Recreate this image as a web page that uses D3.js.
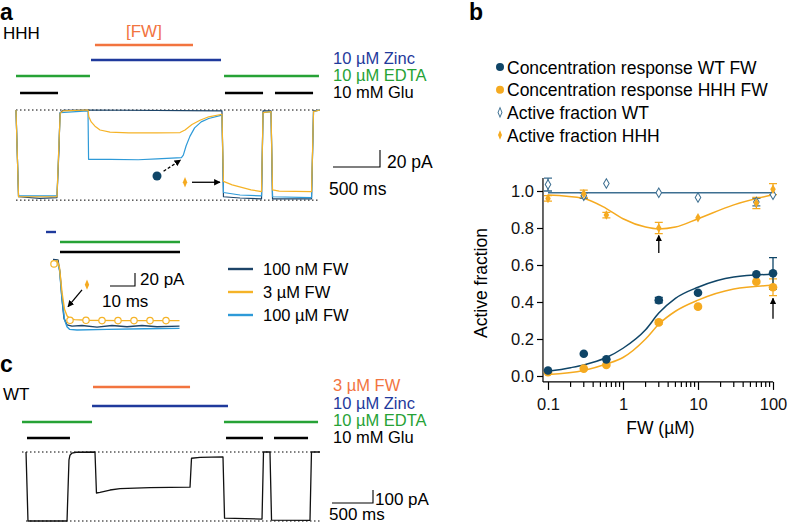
<!DOCTYPE html>
<html>
<head>
<meta charset="utf-8">
<script src="https://cdn.jsdelivr.net/npm/d3@7"></script>
<style>
body { margin: 0; background: #fff; }
svg text { font-family: "Liberation Sans", Arial, Helvetica, sans-serif; }
</style>
</head>
<body>
<div id="fig"></div>
<script>
// ---- panel a: HHH recordings (time in ms, current in pA) ----
var trace100nM_A = [[0,0],[27,-102],[255,-104],[436,-103],[457,-47],[468,-3.5],[500,-0.5],[766,0],[2191,-1],[2207,-102],[2383,-103.5],[2612,-104.5],[2628,-1],[2713,-1],[2729,-104.5],[3144,-104.5],[3165,-1],[3234,0]];
var trace100uM_A = [[0,0],[27,-101],[436,-101],[457,-40],[470,-3],[766,-1],[772,-58],[1000,-58],[1300,-58.5],[1500,-57.5],[1760,-56],[1780,-53],[1810,-42],[1850,-31],[1900,-21],[1970,-14],[2050,-10],[2191,-6],[2207,-97],[2383,-100],[2612,-101],[2628,-3],[2713,-2],[2729,-102],[3144,-103],[3165,-2],[3234,0]];
var trace3uM_A = [[0,0],[27,-102],[436,-102],[457,-40],[470,-4],[500,-1],[766,0],[775,-8],[800,-14],[840,-19],[894,-23.5],[1000,-26],[1200,-27],[1500,-27],[1745,-26.5],[1798,-23.5],[1872,-17],[1957,-12],[2050,-8],[2191,-5],[2207,-84],[2300,-88],[2400,-91],[2500,-94],[2612,-96],[2628,-3],[2713,-2],[2729,-94],[2800,-95.5],[3144,-96],[3165,-2],[3234,0]];
var barsA_FW = [[840, 1883]];
var barsA_Zinc = [[798, 2181]];
var barsA_EDTA = [[0, 787], [2213, 3223]];
var barsA_Glu = [[43, 447], [2223, 2628], [2755, 3160]];

// ---- panel a inset (time in ms, current in pA) ----
var trace100nM_I = [[-1.6,1],[0.4,0],[1.2,-20],[2,-60],[2.8,-90],[4,-100],[6,-102],[10,-101],[16,-103.5],[22,-101],[28,-103],[34,-101],[40,-103],[49,-102]];
var trace100uM_I = [[0,0],[1,-15],[2,-60],[3,-92],[4,-103],[5,-107],[8,-108],[20,-107],[35,-106],[49,-105.5]];
var trace3uM_I = [[0,0],[1,-12],[2,-50],[3,-76],[4,-86],[5,-90],[7,-92],[12,-93],[25,-93.5],[49,-93.5]];
var markers3uM_I = [[-1.2,-6],[5.2,-93],[11.6,-93],[18,-93.5],[24.4,-93.5],[30.8,-93.5],[37.2,-93.5],[43.6,-93.5]];
var barsI_Zinc = [[-4.4, -0.4]];
var barsI_EDTA = [[1.2, 49.2]];
var barsI_Glu = [[1.2, 49.2]];
var legendI = ["100 nM FW", "3 \u00b5M  FW", "100 \u00b5M FW"];

// ---- panel c: WT recording ----
var traceWT_C = [[49,0],[73,-530],[549,-530],[573,-60],[585,-25],[610,-8],[658,-2],[890,0],[908,-315],[951,-310],[1073,-292],[1195,-282],[1561,-274],[2049,-270],[2067,-48],[2171,-42],[2451,-38],[2470,-508],[2927,-515],[2945,0],[3024,0],[3043,-523],[3512,-525],[3530,0],[3634,0]];
var barsC_FW = [[866, 2049]];
var barsC_Zinc = [[854, 2512]];
var barsC_EDTA = [[0, 854], [2463, 3610]];
var barsC_Glu = [[61, 585], [2488, 2939], [3073, 3488]];

// ---- panel b: concentration response and active fraction ----
var fwConc = [0.1, 0.3, 0.6, 3, 10, 60, 100];
var respWT = [0.03, 0.12, 0.09, 0.41, 0.45, 0.55, 0.555];
var respWTerr = [0, 0, 0, 0.015, 0, 0, 0.085];
var respHHH = [0.02, 0.04, 0.06, 0.29, 0.375, 0.51, 0.48];
var respHHHerr = [0, 0, 0, 0.01, 0, 0, 0.045];
var actWT = [1.035, 0.975, 1.04, 0.99, 0.965, 0.94, 0.98];
var actWTerr = [0.035, 0.015, 0, 0, 0, 0.02, 0];
var actHHH = [0.96, 0.985, 0.87, 0.80, 0.855, 0.935, 1.01];
var actHHHerr = [0.015, 0.02, 0.015, 0.03, 0, 0.03, 0.03];
var fitRespWT = [[0.1,0.025],[0.2,0.045],[0.3,0.06],[0.6,0.1],[1,0.15],[2,0.25],[3,0.34],[5,0.42],[10,0.48],[30,0.535],[100,0.55]];
var fitRespHHH = [[0.1,0.008],[0.3,0.03],[0.6,0.065],[1,0.1],[2,0.2],[3,0.28],[5,0.35],[10,0.41],[30,0.47],[100,0.49]];
var fitActWT = [[0.1,0.99],[100,0.99]];
var fitActHHH = [[0.1,0.978],[0.3,0.96],[0.6,0.905],[1,0.85],[2,0.805],[3,0.795],[5,0.805],[10,0.85],[30,0.925],[100,0.98]];
var arrowsB = [[3, 0.665, 0.76], [100, 0.31, 0.42]];
var yTicksB = [0, 0.2, 0.4, 0.6, 0.8, 1.0];
var xTicksB = [0.1, 1, 10, 100];
var legendB = ["Concentration response WT FW", "Concentration response HHH FW", "Active fraction WT", "Active fraction HHH"];

var col = {
	navyTrace: "#1d4468", blueTrace: "#2e9ad8", orangeTrace: "#f5b327",
	fw: "#f2743f", zinc: "#1f3a9c", edta: "#26a236", wt: "#0f4567", hhh: "#f5aa20", wtFit: "#3d6f91"
};

var svg = d3.select("#fig").append("svg")
	.attr("width", 788)
	.attr("height", 526);

var defs = svg.append("defs");
defs.append("marker").attr("id", "head")
	.attr("viewBox", "0 0 10 10").attr("refX", 9).attr("refY", 5)
	.attr("markerWidth", 5).attr("markerHeight", 5).attr("orient", "auto")
	.append("path").attr("d", "M0,0 L10,5 L0,10 z").attr("fill", "#000");

function txt(g, x, y, s, size, color, weight) {
	return g.append("text").attr("x", x).attr("y", y).text(s)
		.style("font-size", size + "px").style("fill", color || "#000")
		.style("font-weight", weight || "normal");
}

function drawBars(g, bars, x, y, color) {
	g.selectAll(null).data(bars).enter().append("line")
		.attr("x1", function(d) { return x(d[0]); })
		.attr("x2", function(d) { return x(d[1]); })
		.attr("y1", y).attr("y2", y)
		.style("stroke", color).style("stroke-width", 2.4);
}

function drawTrace(g, data, x, y, color, w) {
	var line = d3.line()
		.x(function(d) { return x(d[0]); })
		.y(function(d) { return y(d[1]); });
	g.append("path").datum(data).attr("d", line)
		.style("fill", "none").style("stroke", color)
		.style("stroke-width", w || 1.2).style("stroke-linejoin", "round");
}

function dotted(g, x1, x2, y) {
	g.append("line").attr("x1", x1).attr("x2", x2).attr("y1", y).attr("y2", y)
		.style("stroke", "#000").style("stroke-width", 1).style("stroke-dasharray", "1.5,2.5");
}

function scaleBar(g, x0, y0, w, h) {
	g.append("path").attr("d", "M" + x0 + "," + y0 + "H" + (x0 + w) + "V" + (y0 - h))
		.style("fill", "none").style("stroke", "#000").style("stroke-width", 1.1);
}

// ================= panel a =================
var gA = svg.append("g");
var xA = d3.scaleLinear().domain([0, 3234]).range([16, 320]);
var yA = d3.scaleLinear().domain([0, -103.5]).range([110, 198]);

txt(gA, 0, 20, "a", 23, "#000", "bold");
txt(gA, 3, 39, "HHH", 17);
txt(gA, xA(1361), 37, "[FW]", 17, col.fw).attr("text-anchor", "middle");

drawBars(gA, barsA_FW, xA, 45, col.fw);
drawBars(gA, barsA_Zinc, xA, 60, col.zinc);
drawBars(gA, barsA_EDTA, xA, 76, col.edta);
drawBars(gA, barsA_Glu, xA, 93, "#000");
txt(gA, 333, 64, "10 \u00b5M Zinc", 16.5, col.zinc);
txt(gA, 333, 81, "10 \u00b5M EDTA", 16.5, col.edta);
txt(gA, 333, 98, "10 mM Glu", 16.5);

dotted(gA, xA(0), xA(3234), yA(0));
dotted(gA, xA(0), xA(3234), yA(-106));
drawTrace(gA, trace100nM_A, xA, yA, col.navyTrace);
drawTrace(gA, trace100uM_A, xA, yA, col.blueTrace);
drawTrace(gA, trace3uM_A, xA, yA, col.orangeTrace);

// scale bar 500 ms / 20 pA
scaleBar(gA, 333, 167, xA(500) - xA(0), yA(-20) - yA(0));
txt(gA, 387, 168, "20 pA", 17.5);
txt(gA, 329, 195, "500 ms", 17.5);

// annotations
gA.append("circle").attr("cx", xA(1500)).attr("cy", yA(-77.6)).attr("r", 4.5).style("fill", col.wt);
gA.append("line").attr("x1", xA(1570)).attr("y1", yA(-72)).attr("x2", xA(1750)).attr("y2", yA(-59))
	.style("stroke", "#000").style("stroke-width", 1.3).style("stroke-dasharray", "3,2")
	.attr("marker-end", "url(#head)");
var diamond = d3.symbol().type(d3.symbolDiamond2).size(40);
gA.append("path").attr("d", diamond)
	.attr("transform", "translate(" + xA(1798) + "," + yA(-85) + ") scale(0.55,1.3)")
	.style("fill", col.hhh);
gA.append("line").attr("x1", xA(1872)).attr("y1", yA(-85)).attr("x2", xA(2170)).attr("y2", yA(-85))
	.style("stroke", "#000").style("stroke-width", 1.3).attr("marker-end", "url(#head)");

// ================= inset =================
var gI = svg.append("g");
var xI = d3.scaleLinear().domain([0, 49]).range([57, 179.5]);
var yI = d3.scaleLinear().domain([0, -108]).range([260, 330]);

drawBars(gI, barsI_Zinc, xI, 232, col.zinc);
drawBars(gI, barsI_EDTA, xI, 242, col.edta);
drawBars(gI, barsI_Glu, xI, 252, "#000");
drawTrace(gI, trace100nM_I, xI, yI, col.navyTrace, 1.4);
drawTrace(gI, trace100uM_I, xI, yI, col.blueTrace, 1.4);
drawTrace(gI, trace3uM_I, xI, yI, col.orangeTrace, 1.4);
gI.selectAll(null).data(markers3uM_I).enter().append("circle")
	.attr("cx", function(d) { return xI(d[0]); })
	.attr("cy", function(d) { return yI(d[1]); })
	.attr("r", 3.2)
	.style("fill", "#fff").style("stroke", col.orangeTrace).style("stroke-width", 1.2);

scaleBar(gI, 110, 286, xI(10) - xI(0), yI(-20) - yI(0));
txt(gI, 140, 285, "20 pA", 17);
txt(gI, 102, 307, "10 ms", 17);

gI.append("path").attr("d", diamond)
	.attr("transform", "translate(" + xI(12) + "," + yI(-38) + ") scale(0.55,1.3)")
	.style("fill", col.hhh);
gI.append("line").attr("x1", xI(10)).attr("y1", yI(-46)).attr("x2", xI(4.4)).attr("y2", yI(-72))
	.style("stroke", "#000").style("stroke-width", 1.3).attr("marker-end", "url(#head)");

var legColI = [col.navyTrace, col.orangeTrace, col.blueTrace];
var legI = gI.selectAll(".legI").data(legendI).enter().append("g")
	.attr("transform", function(d, i) { return "translate(228," + (269 + i * 23) + ")"; });
legI.append("line").attr("x1", 0).attr("x2", 25).attr("y1", 0).attr("y2", 0)
	.style("stroke", function(d, i) { return legColI[i]; }).style("stroke-width", 2.4);
legI.append("text").attr("x", 35).attr("y", 6).text(function(d) { return d; })
	.style("font-size", "16.5px");

// ================= panel c =================
var gC = svg.append("g");
var xC = d3.scaleLinear().domain([0, 3634]).range([22, 320]);
var yC = d3.scaleLinear().domain([0, -530]).range([452, 521]);

txt(gC, 0, 372, "c", 23, "#000", "bold");
txt(gC, 3, 400, "WT", 17);
drawBars(gC, barsC_FW, xC, 387, col.fw);
drawBars(gC, barsC_Zinc, xC, 406, col.zinc);
drawBars(gC, barsC_EDTA, xC, 422, col.edta);
drawBars(gC, barsC_Glu, xC, 438, "#000");
txt(gC, 333, 391, "3 \u00b5M FW", 16.5, col.fw);
txt(gC, 333, 409, "10 \u00b5M Zinc", 16.5, col.zinc);
txt(gC, 333, 426, "10 \u00b5M EDTA", 16.5, col.edta);
txt(gC, 333, 443, "10 mM Glu", 16.5);

dotted(gC, xC(0), xC(3634), yC(0));
dotted(gC, xC(49), xC(3634), yC(-530));
drawTrace(gC, traceWT_C, xC, yC, "#111", 1.3);

scaleBar(gC, 332, 503, xC(500) - xC(0), yC(-100) - yC(0));
txt(gC, 375, 505, "100 pA", 17);
txt(gC, 329, 520, "500 ms", 17);

// ================= panel b =================
var gB = svg.append("g");
var xB = d3.scaleLog().domain([0.1, 100]).range([548, 773]);
var yB = d3.scaleLinear().domain([0, 1]).range([376, 191]);
var xAxisLeft = 0.0857, yAxisTop = 1.07, yAxisBottom = -0.032;

txt(gB, 469, 20, "b", 23, "#000", "bold");

// legend
var legB = gB.selectAll(".legB").data(legendB).enter().append("g")
	.attr("transform", function(d, i) { return "translate(500," + (67 + i * 22.7) + ")"; });
legB.append("text").attr("x", 7).attr("y", 6.5).text(function(d) { return d; })
	.style("font-size", "17.5px");
legB.filter(function(d, i) { return i < 2; }).append("circle").attr("r", 4)
	.style("fill", function(d, i) { return i == 0 ? col.wt : col.hhh; });
legB.filter(function(d, i) { return i >= 2; }).append("path").attr("d", diamond)
	.attr("transform", "scale(0.5,1.2)")
	.style("fill", function(d, i) { return i == 0 ? "#fff" : col.hhh; })
	.style("stroke", function(d, i) { return i == 0 ? col.wtFit : "none"; })
	.style("stroke-width", 1.4);

// axes
var yAxis = d3.axisLeft(yB).tickValues(yTicksB).tickFormat(d3.format(".1f"))
	.tickSize(6).tickPadding(3);
var gy = gB.append("g").attr("transform", "translate(" + xB(xAxisLeft) + ",0)").call(yAxis);
gy.select(".domain").remove();
gB.append("line").attr("x1", xB(xAxisLeft)).attr("x2", xB(xAxisLeft))
	.attr("y1", yB(yAxisTop)).attr("y2", yB(yAxisBottom));

var minorTicks = [];
[0.1, 1, 10].forEach(function(dec) {
	for (var k = 2; k <= 9; k++) minorTicks.push(dec * k);
});
var xAxis = d3.axisBottom(xB).tickValues(xTicksB)
	.tickFormat(function(d) { return d3.format("~g")(d); })
	.tickSize(8).tickPadding(8);
var gx = gB.append("g").attr("transform", "translate(0," + yB(yAxisBottom) + ")").call(xAxis);
gx.select(".domain").remove();
gx.selectAll(".minor").data(minorTicks).enter().append("line").attr("class", "minor")
	.attr("x1", function(d) { return xB(d); }).attr("x2", function(d) { return xB(d); })
	.attr("y1", 0).attr("y2", 5);
gB.append("line").attr("x1", xB(xAxisLeft)).attr("x2", xB(100))
	.attr("y1", yB(yAxisBottom)).attr("y2", yB(yAxisBottom));
gB.selectAll("line").style("stroke", "#000").style("stroke-width", 1.2);
gB.selectAll(".tick text").style("font-size", "16.5px").style("fill", "#111");
gB.selectAll(".tick line").style("stroke", "#000").style("stroke-width", 1.2);

txt(gB, xB(Math.sqrt(10)), 434, "FW (\u00b5M)", 17.5).attr("text-anchor", "middle");
gB.append("text").attr("transform", "translate(487,283) rotate(-90)")
	.attr("text-anchor", "middle").text("Active fraction").style("font-size", "17.5px");

// fits
function drawFit(data, color) {
	var line = d3.line().curve(d3.curveMonotoneX)
		.x(function(d) { return xB(d[0]); })
		.y(function(d) { return yB(d[1]); });
	gB.append("path").datum(data).attr("d", line)
		.style("fill", "none").style("stroke", color).style("stroke-width", 1.5);
}
drawFit(fitActWT, col.wtFit);
drawFit(fitActHHH, col.hhh);
drawFit(fitRespWT, col.wt);
drawFit(fitRespHHH, col.hhh);

function errBars(vals, errs, color) {
	var pts = fwConc.map(function(c, i) { return {c: c, v: vals[i], e: errs[i]}; })
		.filter(function(d) { return d.e > 0; });
	var g = gB.append("g").style("stroke", color).style("stroke-width", 1.3);
	g.selectAll(null).data(pts).enter().append("path")
		.attr("d", function(d) {
			var x = xB(d.c), y1 = yB(d.v - d.e), y2 = yB(d.v + d.e);
			return "M" + x + "," + y1 + "V" + y2 + "M" + (x - 4) + "," + y1 + "H" + (x + 4) +
				"M" + (x - 4) + "," + y2 + "H" + (x + 4);
		})
		.style("fill", "none");
}

errBars(actWT, actWTerr, col.wtFit);
errBars(actHHH, actHHHerr, col.hhh);
errBars(respHHH, respHHHerr, col.hhh);
errBars(respWT, respWTerr, col.wt);

gB.selectAll(".actWT").data(fwConc).enter().append("path").attr("class", "actWT")
	.attr("d", diamond)
	.attr("transform", function(d, i) { return "translate(" + xB(d) + "," + yB(actWT[i]) + ") scale(0.7,1.2)"; })
	.style("fill", "#fff").style("stroke", col.wtFit).style("stroke-width", 1.2);
gB.selectAll(".actHHH").data(fwConc).enter().append("path").attr("class", "actHHH")
	.attr("d", diamond)
	.attr("transform", function(d, i) { return "translate(" + xB(d) + "," + yB(actHHH[i]) + ") scale(0.7,1.2)"; })
	.style("fill", col.hhh);
gB.selectAll(".respHHH").data(fwConc).enter().append("circle").attr("class", "respHHH")
	.attr("cx", function(d) { return xB(d); })
	.attr("cy", function(d, i) { return yB(respHHH[i]); })
	.attr("r", 4.3).style("fill", col.hhh);
gB.selectAll(".respWT").data(fwConc).enter().append("circle").attr("class", "respWT")
	.attr("cx", function(d) { return xB(d); })
	.attr("cy", function(d, i) { return yB(respWT[i]); })
	.attr("r", 4.3).style("fill", col.wt);

gB.selectAll(".arrB").data(arrowsB).enter().append("line").attr("class", "arrB")
	.attr("x1", function(d) { return xB(d[0]); }).attr("x2", function(d) { return xB(d[0]); })
	.attr("y1", function(d) { return yB(d[1]); }).attr("y2", function(d) { return yB(d[2]); })
	.style("stroke", "#000").style("stroke-width", 1.3).attr("marker-end", "url(#head)");
</script>
</body>
</html>
